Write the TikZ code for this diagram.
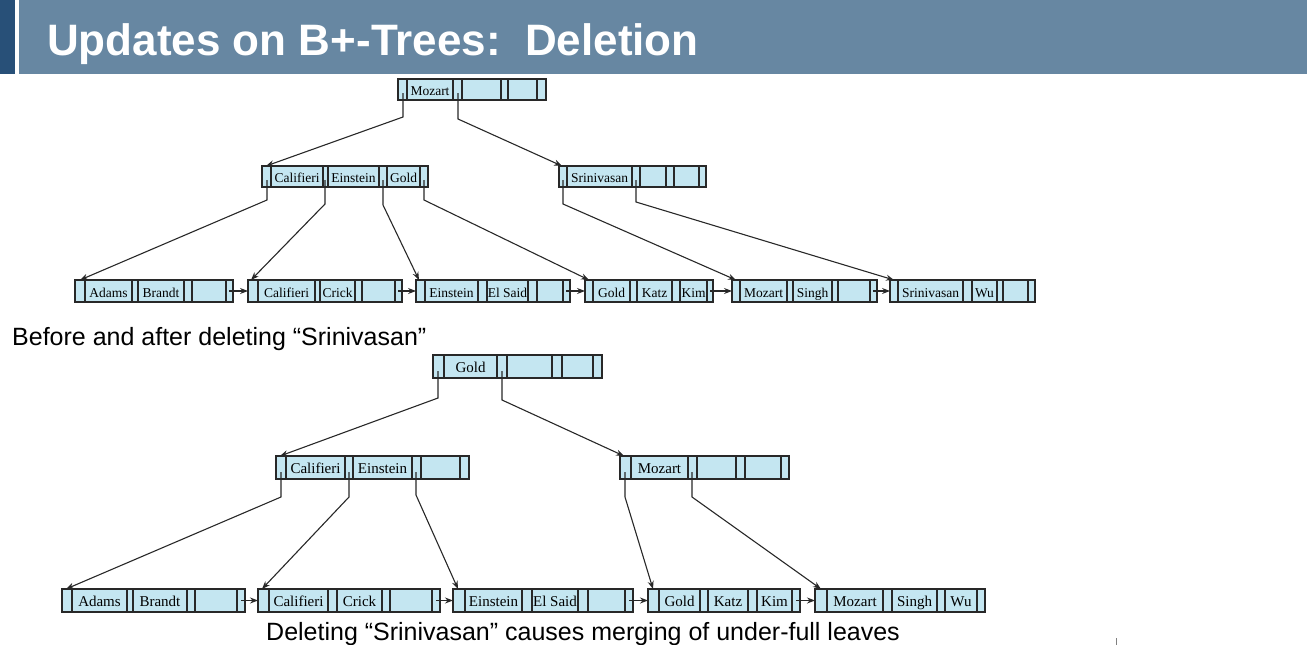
\documentclass[tikz,border=0pt]{standalone}
\usepackage{fontspec}
\setsansfont{Liberation Sans}
\newfontfamily\keyfont{Liberation Serif}
\usetikzlibrary{arrows.meta}
\definecolor{barblue}{RGB}{103,135,162}
\definecolor{stripeblue}{RGB}{40,80,120}
\definecolor{cellfill}{RGB}{196,230,241}
\definecolor{inkgray}{RGB}{40,40,40}
\tikzset{
 bpframe/.style={draw=inkgray, fill=cellfill, line width=1.1pt, inner sep=0pt, outer sep=0pt},
 bpline/.style={draw=inkgray, line width=1.1pt},
 conn/.style={draw=inkgray, line width=1.1pt, -{Stealth[length=8pt,width=6pt]}},
 keyA/.style={font=\keyfont\fontsize{13.5}{16}\selectfont, anchor=base, inner sep=0pt},
 keyB/.style={font=\keyfont\fontsize{15}{17}\selectfont, anchor=base, inner sep=0pt},
 caption/.style={font=\sffamily\fontsize{25}{28}\selectfont, anchor=base west, inner sep=0pt},
}
% name, ytop, ybot, xleft, xright, dividers
\newcommand\bpnode[6]{%
 \node[bpframe, anchor=north west, minimum width=#5pt-#4pt, minimum height=#3pt-#2pt] (#1) at (#4,#2) {};
 \foreach \d in {#6} \draw[bpline] (\d,#2) -- (\d,#3);}
% name, style, x1, x2, baseline, text
\newcommand\bpkey[6]{\node[#2] (#1) at ({(#3+#4)/2},#5) {#6};}
\begin{document}
\begin{tikzpicture}[x=1pt,y=-1pt]
\useasboundingbox (0,0) rectangle (1307,645);
% title bar
\fill[stripeblue] (0,0) rectangle (15,74);
\fill[barblue] (19,0) rectangle (1307,74);
\node[font=\sffamily\bfseries\fontsize{44}{50}\selectfont, text=white, anchor=base west, inner sep=0pt] (title) at (47,55) {Updates on B+-Trees:\ \ Deletion};

% ===== top tree =====
\bpnode{R1}{79}{100}{398}{546}{407,453,462,501,508,537}
\bpkey{R1k1}{keyA}{407}{453}{95}{Mozart}
\bpnode{I1}{166}{187}{262}{428}{271,323,328,379,387,420}
\bpkey{I1k1}{keyA}{271}{323}{182}{Califieri}
\bpkey{I1k2}{keyA}{328}{379}{182}{Einstein}
\bpkey{I1k3}{keyA}{387}{420}{182}{Gold}
\bpnode{I2}{166}{187}{559}{706}{567,632,640,666,674,699}
\bpkey{I2k1}{keyA}{567}{632}{182}{Srinivasan}

\bpnode{L1}{280}{302}{75}{233}{85,132,138,184,192,226}
\bpkey{L1k1}{keyA}{85}{132}{297}{Adams}
\bpkey{L1k2}{keyA}{138}{184}{297}{Brandt}
\bpnode{L2}{280}{302}{248}{402}{258,315,320,355,362,395}
\bpkey{L2k1}{keyA}{258}{315}{297}{Califieri}
\bpkey{L2k2}{keyA}{320}{355}{297}{Crick}
\bpnode{L3}{280}{302}{416}{570}{425,478,487,528,537,563}
\bpkey{L3k1}{keyA}{425}{478}{297}{Einstein}
\bpkey{L3k2}{keyA}{487}{528}{297}{El Said}
\bpnode{L4}{280}{302}{585}{713}{593,630,637,672,680,707}
\bpkey{L4k1}{keyA}{593}{630}{297}{Gold}
\bpkey{L4k2}{keyA}{637}{672}{297}{Katz}
\bpkey{L4k3}{keyA}{680}{707}{297}{Kim}
\bpnode{L5}{280}{302}{732}{877}{740,787,793,832,838,870}
\bpkey{L5k1}{keyA}{740}{787}{297}{Mozart}
\bpkey{L5k2}{keyA}{793}{832}{297}{Singh}
\bpnode{L6}{280}{302}{890}{1035}{898,963,972,997,1003,1028}
\bpkey{L6k1}{keyA}{898}{963}{297}{Srinivasan}
\bpkey{L6k2}{keyA}{972}{997}{297}{Wu}

\coordinate (R1a) at (403,93);
\coordinate (R1b) at (458,93);
\coordinate (I1a) at (267,180);
\coordinate (I1b) at (325,180);
\coordinate (I1c) at (383,180);
\coordinate (I1d) at (424,180);
\coordinate (I2a) at (563,180);
\coordinate (I2b) at (636,180);
\draw[conn] (R1a) -- ++(0,24) -- ([xshift=4pt]I1.north west);
\draw[conn] (R1b) -- ++(0,26) -- ([xshift=3pt]I2.north west);
\draw[conn] (I1a) -- ++(0,20) -- ([xshift=5pt]L1.north west);
\draw[conn] (I1b) -- ++(0,24) -- ([xshift=3pt]L2.north west);
\draw[conn] (I1c) -- ++(0,25) -- ([xshift=3pt]L3.north west);
\draw[conn] (I1d) -- ++(0,20) -- ([xshift=4pt]L4.north west);
\draw[conn] (I2a) -- ++(0,24) -- ([xshift=4pt]L5.north west);
\draw[conn] (I2b) -- ++(0,22) -- ([xshift=4pt]L6.north west);
\draw[conn] ([xshift=-4pt]L1.east) -- (L2.west);
\draw[conn] ([xshift=-4pt]L2.east) -- (L3.west);
\draw[conn] ([xshift=-4pt]L3.east) -- (L4.west);
\draw[conn] ([xshift=-3pt]L4.east) -- (L5.west);
\draw[conn] ([xshift=-4pt]L5.east) -- (L6.west);

\node[caption] (cap1) at (12,345) {Before and after deleting “Srinivasan”};

% ===== bottom tree =====
\bpnode{R2}{355}{378}{433}{602}{444,497,507,552,562,593}
\bpkey{R2k1}{keyB}{444}{497}{372}{Gold}
\bpnode{I3}{456}{479}{276}{469}{286,345,353,412,421,460}
\bpkey{I3k1}{keyB}{286}{345}{473}{Califieri}
\bpkey{I3k2}{keyB}{353}{412}{473}{Einstein}
\bpnode{I4}{456}{479}{620}{789}{631,688,697,736,745,781}
\bpkey{I4k1}{keyB}{631}{688}{473}{Mozart}

\bpnode{M1}{589}{612}{62}{245}{72,127,133,187,195,237}
\bpkey{M1k1}{keyB}{72}{127}{606}{Adams}
\bpkey{M1k2}{keyB}{133}{187}{606}{Brandt}
\bpnode{M2}{589}{612}{258}{440}{269,328,337,382,390,432}
\bpkey{M2k1}{keyB}{269}{328}{606}{Califieri}
\bpkey{M2k2}{keyB}{337}{382}{606}{Crick}
\bpnode{M3}{589}{612}{453}{633}{465,522,532,578,588,625}
\bpkey{M3k1}{keyB}{465}{522}{606}{Einstein}
\bpkey{M3k2}{keyB}{532}{578}{606}{El Said}
\bpnode{M4}{589}{612}{648}{800}{659,700,708,748,757,792}
\bpkey{M4k1}{keyB}{659}{700}{606}{Gold}
\bpkey{M4k2}{keyB}{708}{748}{606}{Katz}
\bpkey{M4k3}{keyB}{757}{792}{606}{Kim}
\bpnode{M5}{589}{612}{815}{985}{827,883,892,937,945,977}
\bpkey{M5k1}{keyB}{827}{883}{606}{Mozart}
\bpkey{M5k2}{keyB}{892}{937}{606}{Singh}
\bpkey{M5k3}{keyB}{945}{977}{606}{Wu}

\coordinate (R2a) at (438,371);
\coordinate (R2b) at (502,371);
\coordinate (I3a) at (281,472);
\coordinate (I3b) at (349,472);
\coordinate (I3c) at (416,472);
\coordinate (I4a) at (625,472);
\coordinate (I4b) at (692,472);
\draw[conn] (R2a) -- ++(0,27) -- ([xshift=4pt]I3.north west);
\draw[conn] (R2b) -- ++(0,29) -- ([xshift=4pt]I4.north west);
\draw[conn] (I3a) -- ++(0,25) -- ([xshift=4pt]M1.north west);
\draw[conn] (I3b) -- ++(0,25) -- ([xshift=4pt]M2.north west);
\draw[conn] (I3c) -- ++(0,23) -- ([xshift=5pt]M3.north west);
\draw[conn] (I4a) -- ++(0,25) -- ([xshift=5pt]M4.north west);
\draw[conn] (I4b) -- ++(0,25) -- ([xshift=6pt]M5.north west);
\draw[conn] ([xshift=-4pt]M1.east) -- (M2.west);
\draw[conn] ([xshift=-4pt]M2.east) -- (M3.west);
\draw[conn] ([xshift=-4pt]M3.east) -- (M4.west);
\draw[conn] ([xshift=-4pt]M4.east) -- (M5.west);

\node[caption] (cap2) at (266,640) {Deleting “Srinivasan” causes merging of under-full leaves};
\draw[gray, line width=1pt] (1116,638) -- (1116,645);
\end{tikzpicture}
\end{document}
